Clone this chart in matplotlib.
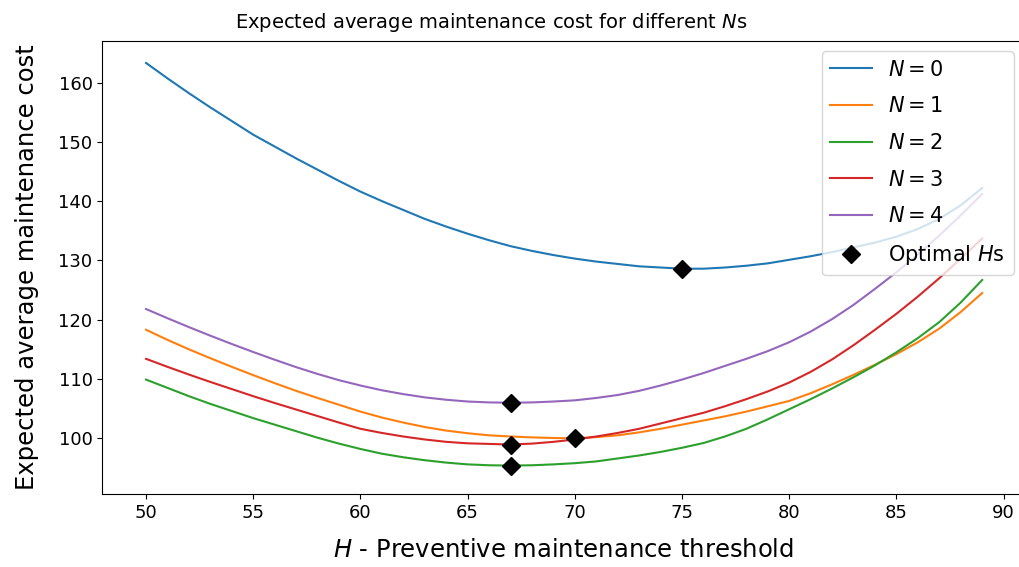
import numpy as np
import matplotlib
matplotlib.use("Agg")
from matplotlib import pyplot as plt

# preventive maintenance threshold H
thresholds = list(range(50, 90))

# expected average maintenance cost for N = 0..4
cost_n0 = [163.3, 160.7, 158.2, 155.8, 153.5, 151.2, 149.2, 147.2, 145.3, 143.4,
           141.6, 140.0, 138.5, 137.0, 135.7, 134.5, 133.4, 132.4, 131.6, 130.9,
           130.3, 129.8, 129.4, 129.0, 128.8, 128.6, 128.6, 128.8, 129.1, 129.5,
           130.1, 130.7, 131.4, 132.2, 133.0, 134.0, 135.3, 137.0, 139.3, 142.2]
cost_n1 = [118.3, 116.6, 115.0, 113.5, 112.05, 110.65, 109.3, 108.0, 106.8, 105.65,
           104.5, 103.5, 102.65, 101.9, 101.3, 100.85, 100.5, 100.3, 100.15, 100.05,
           100.0, 100.2, 100.5, 101.0, 101.6, 102.3, 103.0, 103.7, 104.5, 105.4,
           106.3, 107.6, 109.1, 110.7, 112.4, 114.2, 116.2, 118.5, 121.3, 124.5]
cost_n2 = [109.9, 108.5, 107.1, 105.8, 104.6, 103.4, 102.3, 101.2, 100.1, 99.1,
           98.2, 97.4, 96.8, 96.3, 95.9, 95.6, 95.45, 95.4, 95.45, 95.6,
           95.8, 96.1, 96.6, 97.1, 97.7, 98.4, 99.2, 100.3, 101.6, 103.2,
           104.9, 106.6, 108.4, 110.3, 112.3, 114.5, 116.9, 119.6, 122.9, 126.7]
cost_n3 = [113.4, 112.05, 110.75, 109.5, 108.3, 107.1, 105.95, 104.85, 103.75, 102.65,
           101.6, 100.9, 100.3, 99.8, 99.4, 99.15, 99.05, 98.95, 99.1, 99.4,
           99.8, 100.3, 100.9, 101.6, 102.5, 103.4, 104.3, 105.4, 106.6, 107.9,
           109.4, 111.2, 113.3, 115.7, 118.3, 121.0, 123.9, 127.0, 130.3, 133.7]
cost_n4 = [121.8, 120.25, 118.75, 117.3, 115.9, 114.55, 113.25, 112.0, 110.85, 109.8,
           108.9, 108.1, 107.45, 106.9, 106.5, 106.2, 106.05, 106.0, 106.05, 106.2,
           106.4, 106.8, 107.3, 108.0, 108.9, 109.9, 111.0, 112.2, 113.4, 114.7,
           116.2, 118.0, 120.1, 122.5, 125.2, 128.0, 131.0, 134.2, 137.6, 141.2]

costs = [cost_n0, cost_n1, cost_n2, cost_n3, cost_n4]
n_values = [0, 1, 2, 3, 4]

# optimal H for each N and its cost
optimal_h = [75, 70, 67, 67, 67]
optimal_cost = [128.6, 100.0, 95.4, 98.95, 106.0]

fig = plt.figure(figsize=(10.19, 5.67), dpi=100)
# right spine sits just past the image edge, like in the original
ax = fig.add_axes([0.1004, 0.1287, 0.9045, 0.799])

for n, cost in zip(n_values, costs):
    ax.plot(thresholds, cost, label=f'$N = {n}$')
ax.plot(optimal_h, optimal_cost, 'D', color='black', markersize=9, label='Optimal $H$s')

ax.set_xlim(47.96, 90.95)
ax.set_ylim(90.6, 167.0)
ax.set_xticks(np.arange(50, 91, 5))
ax.set_yticks(np.arange(100, 161, 10))
ax.tick_params(labelsize=13)

ax.set_title('Expected average maintenance cost for different $N$s', fontsize=14,
             x=0.4217, pad=9)
ax.set_xlabel('$H$ - Preventive maintenance threshold', fontsize=17.5, labelpad=12)
ax.set_ylabel('Expected average maintenance cost', fontsize=17.5, labelpad=14)
ax.legend(loc='upper right', fontsize=15, labelspacing=0.8)

fig.savefig('out.png', dpi=100)
